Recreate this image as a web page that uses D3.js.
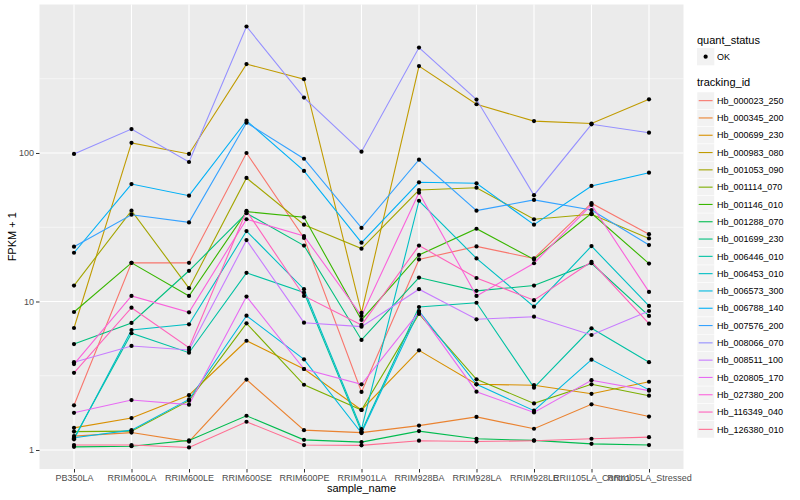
<!DOCTYPE html>
<meta charset="utf-8">
<style>
body { margin: 0; background: white; }
text { font-family: "Liberation Sans", Arial, sans-serif; }
</style>
<body>
<script src="https://d3js.org/d3.v7.min.js"></script>
<script>

////*data (FPKM + 1)*////
const samples = ["PB350LA", "RRIM600LA", "RRIM600LE", "RRIM600SE", "RRIM600PE", "RRIM901LA",
   "RRIM928BA", "RRIM928LA", "RRIM928LE", "RRII105LA_Control", "RRII105LA_Stressed"];

const trackingIds = ["Hb_000023_250", "Hb_000345_200", "Hb_000699_230", "Hb_000983_080", "Hb_001053_090",
   "Hb_001114_070", "Hb_001146_010", "Hb_001288_070", "Hb_001699_230", "Hb_006446_010", "Hb_006453_010",
   "Hb_006573_300", "Hb_006788_140", "Hb_007576_200", "Hb_008066_070", "Hb_008511_100", "Hb_020805_170",
   "Hb_027380_200", "Hb_116349_040", "Hb_126380_010"];

const hb000023 = [2.0, 18.2, 18.2, 100, 26.8, 2.46, 19.2, 23.5, 19.5, 45.9, 28.4];
const hb000345 = [1.24, 1.31, 1.14, 2.98, 1.36, 1.31, 1.46, 1.67, 1.39, 2.03, 1.68];
const hb000699 = [1.41, 1.64, 2.34, 5.44, 3.51, 1.86, 4.69, 2.77, 2.73, 2.39, 2.88];
const hb000983 = [6.63, 117, 98.5, 397, 314, 8.37, 385, 213, 164, 158, 230];
const hb001053 = [12.8, 40.9, 12.3, 67.9, 32.9, 22.7, 56.3, 58.4, 35.8, 38.7, 26.6];
const hb001114 = [1.33, 1.34, 2.15, 7.13, 2.75, 1.86, 8.24, 2.99, 2.06, 2.77, 2.32];
const hb001146 = [8.5, 18.2, 10.9, 40.3, 36.9, 7.51, 20.6, 30.9, 19.2, 39.3, 18.0];
const hb001288 = [1.05, 1.06, 1.16, 1.70, 1.17, 1.13, 1.34, 1.19, 1.16, 1.10, 1.08];
const hb001699 = [5.17, 7.17, 16.1, 39.3, 23.8, 5.51, 14.5, 11.8, 12.8, 18.1, 8.0];
const hb006446 = [1.2, 6.11, 4.52, 15.6, 11.5, 1.33, 9.18, 9.81, 2.63, 6.6, 3.9];
const hb006453 = [1.18, 6.43, 7.02, 29.8, 12.1, 1.38, 47.7, 19.5, 9.23, 23.6, 9.33];
const hb006573 = [1.21, 1.36, 2.19, 8.02, 4.08, 1.30, 8.63, 2.77, 1.84, 4.06, 2.54];
const hb006788 = [21.3, 61.8, 51.6, 165, 75.7, 24.9, 63.5, 62.5, 32.9, 60, 73.7];
const hb007576 = [23.4, 38.4, 34.1, 160, 91.5, 31.3, 90.1, 40.9, 48.3, 41.3, 24];
const hb008066 = [98.5, 145, 87, 711, 236, 102, 513, 229, 52, 156, 137];
const hb008511 = [3.90, 5.02, 4.71, 25.9, 7.2, 6.77, 12.1, 7.59, 7.9, 5.95, 8.63];
const hb020805 = [1.78, 2.17, 2.02, 10.8, 3.51, 2.77, 8.5, 2.47, 1.79, 2.95, 2.51];
const hb027380 = [3.79, 10.9, 8.46, 35.8, 27.6, 8.0, 54.0, 10.9, 18.1, 44.7, 11.6];
const hb116349 = [3.31, 9.08, 4.88, 40.7, 10.9, 6.95, 23.8, 14.4, 10.2, 18.5, 7.09];
const hb126380 = [1.08, 1.08, 1.04, 1.55, 1.08, 1.075, 1.155, 1.14, 1.155, 1.19, 1.22];

const seriesValues = [hb000023, hb000345, hb000699, hb000983, hb001053, hb001114, hb001146, hb001288,
   hb001699, hb006446, hb006453, hb006573, hb006788, hb007576, hb008066, hb008511, hb020805,
   hb027380, hb116349, hb126380];

const yTicks = [1, 10, 100];
const yMinor = [Math.pow(10, 0.5), Math.pow(10, 1.5), Math.pow(10, 2.5)];

//ggplot default hue palette for 20 groups
const hueColors = ["#F8766D", "#EA8331", "#D89000", "#C09B00", "#A3A500", "#7CAE00", "#39B600", "#00BB4E",
   "#00BF7D", "#00C1A3", "#00BFC4", "#00BAE0", "#00B0F6", "#35A2FF", "#9590FF", "#C77CFF", "#E76BF3",
   "#FA62DB", "#FF62BC", "#FF6C91"];

////*set-up*////
const plotVars = ({
   width: 800,
   height: 500,
   panelLeft: 39.5,
   panelRight: 683.5,
   panelTop: 4.5,
   panelBottom: 469
});

const nestedData = trackingIds.map((id, i) => ({
   name: id,
   color: hueColors[i],
   values: seriesValues[i].map((v, j) => ({sample: samples[j], value: v}))
}));

let xScale = d3.scalePoint()
   .domain(samples)
   .range([plotVars.panelLeft, plotVars.panelRight])
   .padding(0.6);

let yScale = d3.scaleLog()
   .domain([Math.pow(10, -0.128), 1000])
   .range([plotVars.panelBottom, plotVars.panelTop]);

let lineGenerator = d3.line()
   .x(d => xScale(d.sample))
   .y(d => yScale(d.value));

let svg = d3.select("body")
   .append("svg")
   .attr("width", plotVars.width)
   .attr("height", plotVars.height)
   .style("display", "block");

//grey panel
svg.append("rect")
   .attr("x", plotVars.panelLeft)
   .attr("y", plotVars.panelTop)
   .attr("width", plotVars.panelRight - plotVars.panelLeft)
   .attr("height", plotVars.panelBottom - plotVars.panelTop)
   .attr("fill", "#EBEBEB");

//grid lines, minor then major
let grid = svg.append("g");
grid.selectAll(".minor")
   .data(yMinor)
   .join("line")
   .attr("x1", plotVars.panelLeft)
   .attr("x2", plotVars.panelRight)
   .attr("y1", d => yScale(d))
   .attr("y2", d => yScale(d))
   .attr("stroke", "white")
   .attr("stroke-width", 0.55);

grid.selectAll(".major-y")
   .data(yTicks)
   .join("line")
   .attr("x1", plotVars.panelLeft)
   .attr("x2", plotVars.panelRight)
   .attr("y1", d => yScale(d))
   .attr("y2", d => yScale(d))
   .attr("stroke", "white")
   .attr("stroke-width", 1.1);

grid.selectAll(".major-x")
   .data(samples)
   .join("line")
   .attr("x1", d => xScale(d))
   .attr("x2", d => xScale(d))
   .attr("y1", plotVars.panelTop)
   .attr("y2", plotVars.panelBottom)
   .attr("stroke", "white")
   .attr("stroke-width", 1.1);

//one line per tracking id
svg.append("g")
   .selectAll("path")
   .data(nestedData)
   .join("path")
   .attr("d", d => lineGenerator(d.values))
   .attr("fill", "none")
   .attr("stroke", d => d.color)
   .attr("stroke-width", 1.1);

//points, all quant_status OK
svg.append("g")
   .selectAll("circle")
   .data(nestedData.flatMap(d => d.values))
   .join("circle")
   .attr("cx", d => xScale(d.sample))
   .attr("cy", d => yScale(d.value))
   .attr("r", 2.1)
   .attr("fill", "black");

//axes
let xAxis = d3.axisBottom(xScale).tickSize(3.5).tickPadding(2);
let yAxis = d3.axisLeft(yScale).tickValues(yTicks).tickFormat(d3.format("d")).tickSize(3.5).tickPadding(2);

let gx = svg.append("g")
   .attr("transform", `translate(0,${plotVars.panelBottom})`)
   .call(xAxis);
let gy = svg.append("g")
   .attr("transform", `translate(${plotVars.panelLeft},0)`)
   .call(yAxis);

[gx, gy].forEach(g => {
   g.select(".domain").remove();
   g.selectAll(".tick line").attr("stroke", "#333333").attr("stroke-width", 1);
   g.selectAll(".tick text")
      .attr("fill", "#4D4D4D")
      .style("font-size", "9px")
      .style("font-family", "'Liberation Sans', Arial, sans-serif");
});

svg.append("text")
   .attr("x", (plotVars.panelLeft + plotVars.panelRight) / 2)
   .attr("y", 492)
   .attr("text-anchor", "middle")
   .style("font-size", "11px")
   .text("sample_name");

svg.append("text")
   .attr("transform", `translate(16,${(plotVars.panelTop + plotVars.panelBottom) / 2}) rotate(-90)`)
   .attr("text-anchor", "middle")
   .style("font-size", "11px")
   .text("FPKM + 1");

////*legends on the right*////
const keyX = 697, keySize = 17.3;

svg.append("text")
   .attr("x", keyX)
   .attr("y", 44)
   .style("font-size", "11px")
   .text("quant_status");

svg.append("rect")
   .attr("x", keyX).attr("y", 48)
   .attr("width", keySize).attr("height", keySize)
   .attr("fill", "#F2F2F2");
svg.append("circle")
   .attr("cx", keyX + keySize / 2).attr("cy", 48 + keySize / 2)
   .attr("r", 2.1).attr("fill", "black");
svg.append("text")
   .attr("x", keyX + 20).attr("y", 48 + keySize / 2 + 3.2)
   .style("font-size", "9px")
   .text("OK");

svg.append("text")
   .attr("x", keyX)
   .attr("y", 86)
   .style("font-size", "11px")
   .text("tracking_id");

let keys = svg.append("g")
   .selectAll("g")
   .data(nestedData)
   .join("g")
   .attr("transform", (d, i) => `translate(${keyX},${92 + i * keySize})`);

keys.append("rect")
   .attr("width", keySize).attr("height", keySize)
   .attr("fill", "#F2F2F2")
   .attr("stroke", "white")
   .attr("stroke-width", 0.5);
keys.append("line")
   .attr("x1", 1.7).attr("x2", keySize - 1.7)
   .attr("y1", keySize / 2).attr("y2", keySize / 2)
   .attr("stroke", d => d.color)
   .attr("stroke-width", 1.1);
keys.append("text")
   .attr("x", 20).attr("y", keySize / 2 + 3.2)
   .style("font-size", "9px")
   .text(d => d.name);

</script>
</body>
</html>
